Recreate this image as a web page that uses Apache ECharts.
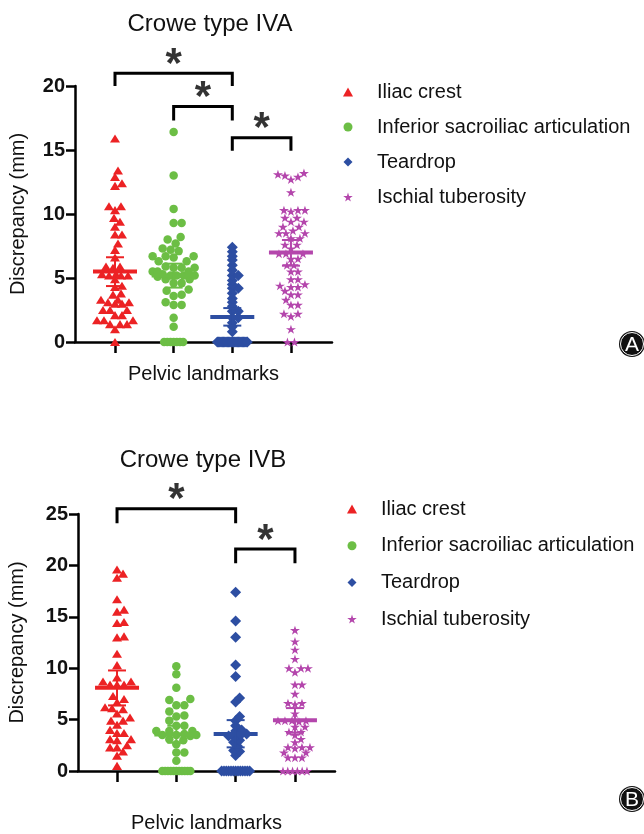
<!DOCTYPE html>
<html><head><meta charset="utf-8">
<script src="https://cdn.jsdelivr.net/npm/echarts@6/dist/echarts.min.js"></script>
<style>html,body{margin:0;padding:0;background:#fff}#c{width:644px;height:834px}</style>
</head><body><div id="c"></div>
<script>
// ---------------- DATA ----------------
const categories = ['Iliac crest', 'Inferior sacroiliac articulation', 'Teardrop', 'Ischial tuberosity'];
const panelTitles = ['Crowe type IVA', 'Crowe type IVB'];
const yAxisName = 'Discrepancy (mm)';
const xAxisName = 'Pelvic landmarks';
const panelLetters = ['A', 'B'];
const yTicksA = [0, 5, 10, 15, 20];
const yTicksB = [0, 5, 10, 15, 20, 25];

// Panel A (Crowe type IVA)
const iliacA = [15.9, 13.4, 12.9, 12.4, 12.2, 10.6, 10.6, 10.3, 9.7, 9.4, 9.0, 8.4, 8.4, 7.7, 7.2, 6.6, 5.9, 5.9, 5.8, 5.3, 5.2, 5.2, 5.2, 5.3, 4.9, 4.4, 4.3, 3.7, 3.8, 3.3, 3.3, 3.1, 3.0, 3.0, 3.1, 2.5, 2.5, 2.5, 2.1, 2.1, 1.7, 1.7, 1.7, 1.4, 1.4, 1.4, 1.0, 0];
const sacroA = [16.4, 13.0, 10.4, 9.3, 9.3, 8.2, 8.0, 7.7, 7.3, 7.2, 7.1, 6.7, 6.7, 6.6, 6.7, 6.3, 6.3, 5.8, 5.8, 5.9, 5.8, 5.5, 5.5, 5.5, 5.2, 5.2, 5.2, 5.2, 5.3, 5.1, 4.9, 4.9, 4.6, 4.6, 4.1, 4.0, 3.7, 3.6, 3.1, 2.9, 2.9, 1.9, 1.2, 0, 0, 0, 0, 0, 0, 0];
const teardropA = [7.4, 7.05, 6.7, 6.4, 6.0, 5.6, 5.2, 5.2, 4.8, 4.5, 4.2, 4.2, 3.8, 3.4, 3.1, 2.8, 2.4, 2.4, 1.9, 1.9, 1.5, 1.2, 0.8, 0, 0, 0, 0, 0, 0, 0, 0, 0, 0, 0, 0, 0, 0, 0, 0, 0, 0, 0, 0, 0, 0, 0, 0, 0];
const ischialA = [13.2, 13.1, 13.0, 12.9, 12.7, 11.7, 10.3, 10.3, 10.3, 10.2, 9.7, 9.7, 9.4, 9.4, 9.0, 9.0, 8.7, 8.5, 8.5, 8.5, 8.1, 8.1, 7.6, 7.6, 7.3, 6.9, 6.9, 6.9, 6.5, 6.5, 6.0, 6.0, 5.5, 5.5, 4.9, 4.9, 4.5, 4.4, 4.3, 4.3, 4.0, 3.7, 3.7, 3.3, 2.9, 2.9, 2.2, 2.2, 2.0, 1.0, 0, 0];
const meanA = [5.5, 5.2, 1.95, 7.0];
const upperA = [6.62, 6.12, 2.65, 7.97];
const lowerA = [4.37, 4.25, 1.28, 5.96];
const sigPairsA = [[1, 3], [2, 3], [3, 4]];
const sigTopA = [21.0, 18.4, 15.96];
const sigBottomA = [20.0, 17.3, 14.95];

// Panel B (Crowe type IVB)
const iliacB = [19.6, 19.2, 18.8, 16.7, 15.7, 15.5, 14.5, 14.4, 13.1, 13.0, 11.4, 10.3, 9.1, 8.7, 8.7, 8.4, 8.4, 8.4, 7.3, 7.0, 6.7, 6.2, 6.1, 6.0, 5.6, 5.2, 4.9, 4.9, 4.5, 4.0, 3.7, 3.7, 3.1, 3.1, 3.0, 2.5, 2.3, 2.3, 1.9, 1.5, 0.5];
const sacroB = [10.2, 9.4, 8.1, 7.0, 6.9, 6.4, 6.4, 5.8, 5.4, 5.3, 4.9, 4.4, 4.4, 3.9, 3.9, 3.9, 3.6, 3.5, 3.5, 3.4, 3.5, 3.1, 3.0, 2.6, 1.8, 1.8, 1.0, 0, 0, 0, 0, 0, 0, 0, 0, 0, 0, 0];
const teardropB = [17.4, 14.6, 13.0, 10.3, 9.2, 7.1, 6.7, 5.3, 4.9, 4.4, 4.0, 3.9, 3.6, 3.4, 3.3, 3.5, 3.0, 2.8, 2.4, 2.0, 1.9, 1.5, 0, 0, 0, 0, 0, 0, 0, 0, 0, 0, 0, 0, 0];
const ischialB = [13.7, 12.6, 11.8, 10.9, 10.0, 10.0, 10.0, 9.6, 8.4, 8.4, 7.5, 6.6, 6.6, 6.5, 5.6, 4.9, 4.9, 4.8, 4.9, 4.9, 4.3, 4.3, 3.8, 3.8, 3.5, 3.1, 2.8, 2.3, 2.3, 2.2, 2.3, 1.8, 1.8, 1.3, 1.3, 1.3, 0, 0, 0, 0, 0, 0];
const meanB = [8.1, 3.55, 3.6, 4.93];
const upperB = [9.78, 4.4, 4.95, 6.12];
const lowerB = [6.38, 2.75, 2.3, 3.72];
const sigPairsB = [[1, 3], [3, 4]];
const sigTopB = [25.5, 21.6];
const sigBottomB = [24.1, 20.2];
const sigMark = '*';

// ---------------- STYLE / LAYOUT ----------------
const FONT = 'Liberation Sans, Arial, Helvetica, sans-serif';
const colors = ['#EC2224', '#6CBE45', '#2D4EA2', '#B446AC'];
const symbols = [
  'path://M5,0 L10,9 L0,9 Z',
  'circle',
  'path://M5,0 L10,5 L5,10 L0,5 Z',
  'path://M50,0 L61,35 L98,35 L68,57 L79,91 L50,70 L21,91 L32,57 L2,35 L39,35 Z'
];
const symSizes = [[10, 9], 8.5, [11, 11], [10, 9.5]];

const panels = [
  { grid: { left: 75, top: 86, width: 257, height: 256 }, xMin: 0.318, xMax: 4.70, yMax: 20,
    groups: [iliacA, sacroA, teardropA, ischialA], mean: meanA, upper: upperA, lower: lowerA,
    pairs: sigPairsA, top: sigTopA, bottom: sigBottomA,
    swarm: [{ cw: 7, ch: 7, maxHalf: 18 }, { cw: 8, ch: 8, maxHalf: 21, zeroHalf: 9.5 },
            { cw: 6, ch: 3, maxHalf: 10, zeroHalf: 15 }, { cw: 7, ch: 7, maxHalf: 18 }],
    titleTop: 7, titleX: 205, yNameGap: 47, xNameGap: 22,
    legendLeft: 343, legendTop: 82, legendGap: 15, letter: [632, 344] },
  { grid: { left: 78, top: 514, width: 257, height: 258 }, xMin: 0.342, xMax: 4.675, yMax: 25,
    groups: [iliacB, sacroB, teardropB, ischialB], mean: meanB, upper: upperB, lower: lowerB,
    pairs: sigPairsB, top: sigTopB, bottom: sigBottomB,
    swarm: [{ cw: 7, ch: 7, maxHalf: 18 }, { cw: 8, ch: 8, maxHalf: 20, zeroHalf: 14 },
            { cw: 6, ch: 5, maxHalf: 12, zeroHalf: 14 }, { cw: 7, ch: 6, maxHalf: 20, zeroHalf: 12 }],
    titleTop: 443, titleX: 198, yNameGap: 51, xNameGap: 42,
    legendLeft: 347, legendTop: 499, legendGap: 16.7, letter: [632, 799] }
];

// beeswarm-style horizontal arrangement of each column (computed, in pixels, then to axis units)
function swarm(vals, cat, o, pxX, pxY) {
  const zeros = vals.filter(v => v === 0);
  const rest = vals.filter(v => v !== 0).slice().sort((a, b) => a - b);
  const placed = [];
  const nz = zeros.length;
  const zs = nz > 1 ? Math.min(o.cw, 2 * (o.zeroHalf || o.maxHalf) / (nz - 1)) : 0;
  zeros.forEach((v, j) => placed.push({ dx: (j - (nz - 1) / 2) * zs, y: 0, v }));
  rest.forEach(v => {
    const y = v * pxY;
    let best = 0, bestScore = -1;
    for (let k = 0; k <= 2 * o.maxHalf; k++) {
      const off = (k % 2 === 1 ? 1 : -1) * Math.ceil(k / 2);
      let minD = Infinity;
      for (const p of placed) {
        const a = (p.dx - off) / o.cw, b = (p.y - y) / o.ch;
        const d = a * a + b * b;
        if (d < minD) minD = d;
      }
      if (minD >= 1) { best = off; break; }
      if (minD > bestScore) { bestScore = minD; best = off; }
    }
    placed.push({ dx: best, y, v });
  });
  return placed.map(p => [cat + p.dx / pxX, p.v]);
}

const option = {
  backgroundColor: '#fff',
  animation: false,
  title: [], grid: [], xAxis: [], yAxis: [], legend: [], series: [], graphic: []
};

panels.forEach((p, pi) => {
  const pxX = p.grid.width / (p.xMax - p.xMin);
  const pxY = p.grid.height / p.yMax;
  option.title.push({
    text: panelTitles[pi], left: p.titleX, top: p.titleTop, textAlign: 'center', textVerticalAlign: 'top',
    textStyle: { fontFamily: FONT, fontSize: 24, fontWeight: 'normal', color: '#111' }
  });
  option.grid.push(Object.assign({ containLabel: false }, p.grid));
  option.xAxis.push({
    type: 'value', gridIndex: pi, min: p.xMin, max: p.xMax,
    name: xAxisName, nameLocation: 'middle', nameGap: p.xNameGap,
    nameTextStyle: { fontFamily: FONT, fontSize: 20, color: '#111' },
    axisLine: { show: true, onZero: false, lineStyle: { color: '#000', width: 2.5 } },
    axisTick: { show: true, customValues: [1, 2, 3, 4], length: 11, lineStyle: { color: '#000', width: 2.5 } },
    axisLabel: { show: false }, splitLine: { show: false }
  });
  option.yAxis.push({
    type: 'value', gridIndex: pi, min: 0, max: p.yMax, interval: 5,
    name: yAxisName, nameLocation: 'middle', nameGap: p.yNameGap,
    nameTextStyle: { fontFamily: FONT, fontSize: 20, color: '#111' },
    axisLine: { show: true, lineStyle: { color: '#000', width: 2.5 } },
    axisTick: { show: true, length: 9, lineStyle: { color: '#000', width: 2.5 } },
    axisLabel: { fontFamily: FONT, fontSize: 20, fontWeight: 'bold', color: '#111', margin: 10 },
    splitLine: { show: false }
  });
  option.legend.push({
    orient: 'vertical', left: p.legendLeft, top: p.legendTop, itemGap: p.legendGap, padding: 0,
    itemWidth: 10, itemHeight: 9, symbolKeepAspect: true,
    data: categories,
    textStyle: { fontFamily: FONT, fontSize: 20, lineHeight: 20, color: '#111', padding: [0, 0, 0, 19] }
  });
  p.groups.forEach((vals, gi) => {
    option.series.push({
      type: 'scatter', name: categories[gi], xAxisIndex: pi, yAxisIndex: pi,
      symbol: symbols[gi], symbolSize: symSizes[gi], symbolKeepAspect: true,
      itemStyle: { color: colors[gi], opacity: 1 },
      data: swarm(vals, gi + 1, p.swarm[gi], pxX, pxY), z: 2, clip: false
    });
  });
  option.series.push({
    type: 'custom', xAxisIndex: pi, yAxisIndex: pi, z: 5,
    data: p.mean.map((m, i) => [i + 1, m, p.lower[i], p.upper[i]]),
    encode: { x: 0, y: [1, 2, 3] },
    renderItem: (params, api) => {
      const x = api.value(0);
      const c = api.coord([x, api.value(1)]);
      const lo = api.coord([x, api.value(2)]);
      const hi = api.coord([x, api.value(3)]);
      const col = colors[params.dataIndex];
      return { type: 'group', children: [
        { type: 'line', shape: { x1: c[0] - 22, y1: c[1], x2: c[0] + 22, y2: c[1] }, style: { stroke: col, lineWidth: 4 } },
        { type: 'line', shape: { x1: hi[0], y1: hi[1], x2: lo[0], y2: lo[1] }, style: { stroke: col, lineWidth: 2 } },
        { type: 'line', shape: { x1: hi[0] - 9, y1: hi[1], x2: hi[0] + 9, y2: hi[1] }, style: { stroke: col, lineWidth: 2 } },
        { type: 'line', shape: { x1: lo[0] - 9, y1: lo[1], x2: lo[0] + 9, y2: lo[1] }, style: { stroke: col, lineWidth: 2 } }
      ] };
    }
  });
  option.series.push({
    type: 'custom', xAxisIndex: pi, yAxisIndex: pi, z: 6, clip: false,
    data: p.pairs.map((pr, i) => [pr[0], pr[1], p.top[i], p.bottom[i]]),
    encode: { x: [0, 1], y: [2, 3] },
    renderItem: (params, api) => {
      const a = api.coord([api.value(0), api.value(3)]);
      const b = api.coord([api.value(0), api.value(2)]);
      const c = api.coord([api.value(1), api.value(2)]);
      const d = api.coord([api.value(1), api.value(3)]);
      return { type: 'polyline', shape: { points: [a, b, c, d] },
        style: { stroke: '#000', lineWidth: 3, fill: null, lineJoin: 'miter' } };
    }
  });
  option.series.push({
    type: 'scatter', xAxisIndex: pi, yAxisIndex: pi, z: 7, clip: false, silent: true,
    symbolSize: 1, itemStyle: { color: 'rgba(0,0,0,0)' },
    data: p.pairs.map((pr, i) => [(pr[0] + pr[1]) / 2, p.top[i]]),
    label: { show: true, position: 'inside', offset: [0, -8], formatter: sigMark,
      fontFamily: FONT, fontSize: 42, fontWeight: 'bold', color: '#000' }
  });
  option.graphic.push({
    type: 'group', x: p.letter[0], y: p.letter[1], children: [
      { type: 'circle', shape: { cx: 0, cy: 0, r: 13 }, style: { fill: '#111' } },
      { type: 'circle', shape: { cx: 0, cy: 0, r: 11.5 }, style: { fill: 'none', stroke: '#fff', lineWidth: 1 } },
      { type: 'text', style: { text: panelLetters[pi], x: 0, y: 1, align: 'center', verticalAlign: 'middle', fill: '#fff', font: '21px ' + FONT } }
    ]
  });
});

const chart = echarts.init(document.getElementById('c'));
chart.setOption(option);
</script>
</body></html>
